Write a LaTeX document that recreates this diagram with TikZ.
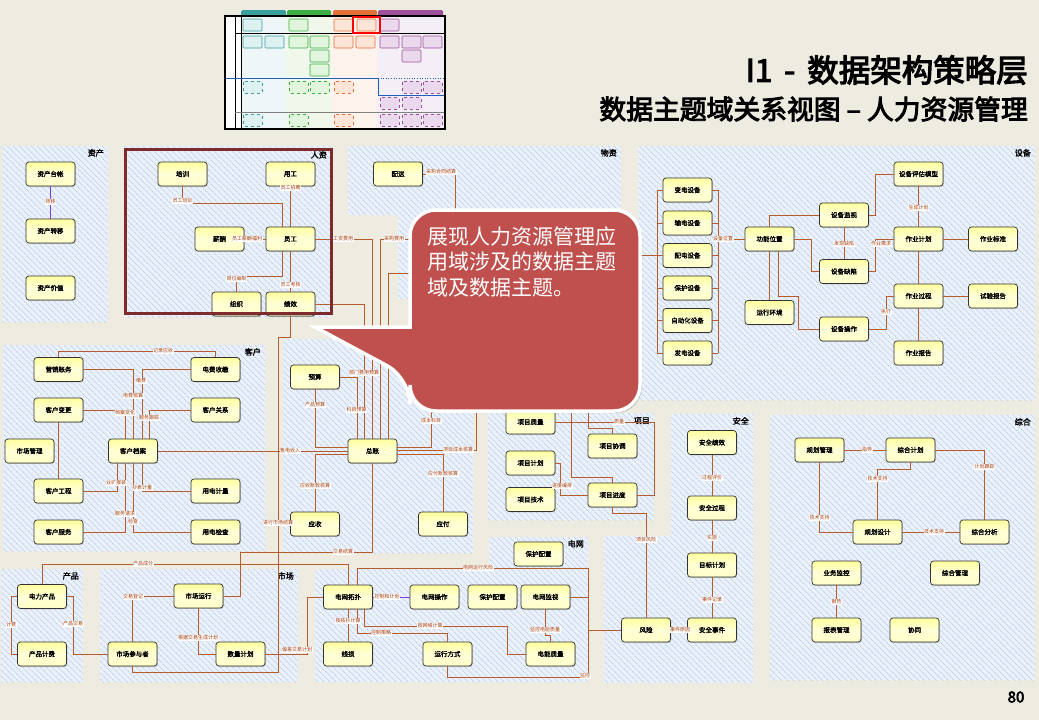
\documentclass[tikz,border=0pt]{standalone}
\usepackage{fontspec}
\newfontfamily\cjk[AutoFakeBold=2]{Noto Sans CJK SC}
\newfontfamily\cjkt[FakeBold=3.5]{Noto Sans CJK SC}
\usetikzlibrary{patterns.meta,shadows}
\definecolor{bg}{HTML}{EEECE1}
\definecolor{pfill}{HTML}{EBF1FA}
\definecolor{hatch}{HTML}{AEC2E4}
\definecolor{linkc}{HTML}{B85B2E}
\definecolor{vlinkc}{HTML}{7A3FE6}
\definecolor{lblc}{HTML}{A23B0C}
\definecolor{entTop}{HTML}{FFFF9E}
\definecolor{entBot}{HTML}{FFFFC8}
\definecolor{hrred}{HTML}{7E2B2B}
\definecolor{callred}{HTML}{C0504D}
\definecolor{tT}{HTML}{3A9E9C}\definecolor{tTf}{HTML}{DDF1F1}
\definecolor{tG}{HTML}{3CAE43}\definecolor{tGf}{HTML}{E0F5DC}
\definecolor{tO}{HTML}{E4703A}\definecolor{tOf}{HTML}{FCE4D6}
\definecolor{tP}{HTML}{A0509A}\definecolor{tPf}{HTML}{EAD8EC}
\definecolor{colA}{HTML}{EEF6F7}
\definecolor{colB}{HTML}{F0F8EC}
\definecolor{colC}{HTML}{FDF3EC}
\definecolor{colD}{HTML}{F4EFF6}
\definecolor{thblue}{HTML}{1F5FBF}
\begin{document}
\begin{tikzpicture}[x=1pt,y=-1pt,
  panel/.style={fill=pfill, postaction={pattern={Lines[angle=-45,distance=4pt,line width=0.5pt]}, pattern color=hatch}},
  ent/.style={draw=black!80, line width=0.7pt, rounded corners=3pt, minimum width=49pt, minimum height=24pt, inner sep=1pt, top color=entTop, bottom color=entBot, middle color=white!60!entTop, font=\cjk\bfseries\fontsize{6.5}{7}\selectfont, drop shadow={shadow xshift=0.8pt, shadow yshift=-0.9pt, opacity=0.4}},
  lnk/.style={draw=linkc, line width=0.9pt},
  vlnk/.style={draw=vlinkc, line width=0.9pt},
  lbl/.style={font=\cjk\fontsize{5}{5}\selectfont, text=lblc, fill=white, inner sep=0.5pt},
  plab/.style={font=\cjk\bfseries\fontsize{8}{8}\selectfont, anchor=north east, inner sep=0pt},
  ticT/.style={draw=tT, fill=tTf, line width=0.6pt, rounded corners=1pt},
  ticG/.style={draw=tG, fill=tGf, line width=0.6pt, rounded corners=1pt},
  ticO/.style={draw=tO, fill=tOf, line width=0.6pt, rounded corners=1pt},
  ticP/.style={draw=tP, fill=tPf, line width=0.6pt, rounded corners=1pt},
  callout/.style={fill=callred, draw=white, line width=3.5pt, drop shadow={opacity=0.4, shadow xshift=2pt, shadow yshift=-2pt}},
]
\fill[bg] (0,0) rectangle (1039,720);
\useasboundingbox (0,0) rectangle (1039,720);

% ---------- thumbnail ----------
\fill[tT, rounded corners=1.5pt] (241,10) rectangle (286,17);
\fill[tG, rounded corners=1.5pt] (287,10) rectangle (331,17);
\fill[tO, rounded corners=1.5pt] (333,10) rectangle (377,17);
\fill[tP, rounded corners=1.5pt] (378,10) rectangle (443,17);
\fill[colA] (241,16) rectangle (286,129);
\fill[colB] (286,16) rectangle (331,129);
\fill[colC] (331,16) rectangle (377,129);
\fill[colD] (377,16) rectangle (445,129);
\fill[white] (225,16) rectangle (241,129);
\draw[black, line width=0.8pt] (235,16) -- (235,129) (241,16) -- (241,129);
\draw[black, line width=0.8pt] (235,33) -- (445,33);
\draw[gray, line width=1pt] (235,112) -- (445,112);
\draw[thblue, line width=1pt] (225,78) -- (378,78) -- (378,95) -- (445,95);
\draw[thblue, line width=0.6pt, dotted] (378,78) -- (445,78);
\draw[black, line width=1.2pt] (225,16) rectangle (445,129);
\foreach \x/\y in {243/19,243/36,265/36}{\draw[ticT] (\x,\y) rectangle ++(19,12);}
\foreach \x/\y in {289/19,289/36,310/36,310/50,310/64}{\draw[ticG] (\x,\y) rectangle ++(19,12);}
\foreach \x/\y in {334/19,357/19,334/36,356/36}{\draw[ticO] (\x,\y) rectangle ++(19,12);}
\foreach \x/\y in {380/19,380/36,402/36,423/36,402/50}{\draw[ticP] (\x,\y) rectangle ++(19,12);}
\foreach \x/\y in {243/81,243/114}{\draw[ticT,dashed] (\x,\y) rectangle ++(19,12);}
\foreach \x/\y in {289/81,310/81,289/114}{\draw[ticG,dashed] (\x,\y) rectangle ++(19,12);}
\foreach \x/\y in {334/81,334/114}{\draw[ticO,dashed] (\x,\y) rectangle ++(19,12);}
\foreach \x/\y in {402/81,423/81,380/97,402/97,380/114,402/114,423/114}{\draw[ticP,dashed] (\x,\y) rectangle ++(19,12);}
\draw[red, line width=1.6pt] (353,17) rectangle (380,33);

% ---------- panels ----------
\path[panel] (2,146) rectangle (108,322);
\path[panel] (125,146) rectangle (331,317);
\path[panel] (348,146) -- (621,146) -- (621,299) -- (398,299) -- (398,215) -- (348,215) -- cycle;
\path[panel] (638,146) rectangle (1035,400);
\path[panel] (3,345) rectangle (265,551);
\path[panel] (283,339) rectangle (473,553);
\path[panel] (488,413) rectangle (654,520);
\path[panel] (671,414) -- (753,414) -- (753,683) -- (604,683) -- (604,536) -- (671,536) -- cycle;
\path[panel] (770,415) rectangle (1035,680);
\path[panel] (1,569) rectangle (83,682);
\path[panel] (100,569) rectangle (298,682);
\path[panel] (489,537) -- (588,537) -- (588,682) -- (315,682) -- (315,569) -- (489,569) -- cycle;

\node[plab] (pl1) at (104,149) {资产};
\node[plab] (pl2) at (327,151) {人资};
\node[plab] (pl3) at (617,149) {物资};
\node[plab] (pl4) at (1031,149) {设备};
\node[plab] (pl5) at (261,348) {客户};
\node[plab] (pl6) at (650,417) {项目};
\node[plab] (pl7) at (749,417) {安全};
\node[plab] (pl8) at (1031,418) {综合};
\node[plab] (pl9) at (79,572) {产品};
\node[plab] (pl10) at (294,572) {市场};
\node[plab] (pl11) at (584,540) {电网};

% ---------- entities ----------
\node[ent] (zctz) at (50.5,174) {资产台帐};
\node[ent] (zczy) at (50.5,231) {资产转移};
\node[ent] (zcjz) at (50.5,288) {资产价值};
\node[ent] (px) at (182.5,174) {培训};
\node[ent] (ygg) at (290.5,174) {用工};
\node[ent] (xc) at (219.5,239) {薪酬};
\node[ent] (yuan) at (290.5,239) {员工};
\node[ent] (zz) at (236.5,304) {组织};
\node[ent] (jx) at (290.5,304) {绩效};
\node[ent] (ps) at (398,174) {配送};
\node[ent] (bd) at (687.5,190) {变电设备};
\node[ent] (sd) at (687.5,223) {输电设备};
\node[ent] (pd) at (687.5,255.5) {配电设备};
\node[ent] (bh) at (687.5,288) {保护设备};
\node[ent] (zdh) at (687.5,320.5) {自动化设备};
\node[ent] (fd) at (687.5,353) {发电设备};
\node[ent] (gnwz) at (769.5,239) {功能位置};
\node[ent] (yxhj) at (769.5,312.5) {运行环境};
\node[ent] (sbjs) at (844,215) {设备监视};
\node[ent] (sbqx) at (844,271.5) {设备缺陷};
\node[ent] (sbcz) at (844,329) {设备操作};
\node[ent] (pgmx) at (918.5,174) {设备评估模型};
\node[ent] (zyjh) at (918.5,239) {作业计划};
\node[ent] (zygc) at (918.5,296) {作业过程};
\node[ent] (zybg) at (918.5,353) {作业报告};
\node[ent] (zybz) at (993,239) {作业标准};
\node[ent] (sybg) at (993,296) {试验报告};
\node[ent] (yxzw) at (58.5,369.5) {营销账务};
\node[ent] (dfsj) at (215.5,369.5) {电费收缴};
\node[ent] (khbg) at (58.5,410) {客户变更};
\node[ent] (khgx) at (215.5,410) {客户关系};
\node[ent] (scgl) at (29.5,451) {市场管理};
\node[ent] (khda) at (133,451) {客户档案};
\node[ent] (khgc) at (58.5,491) {客户工程};
\node[ent] (ydjl) at (215.5,491) {用电计量};
\node[ent] (khfw) at (58.5,532) {客户服务};
\node[ent] (ydjc) at (215.5,532) {用电检查};
\node[ent] (ys) at (315,377) {预算};
\node[ent] (zhz) at (372.5,451) {总账};
\node[ent] (yss) at (315,524) {应收};
\node[ent] (yf) at (443,524) {应付};
\node[ent] (xmzl) at (530.5,422) {项目质量};
\node[ent] (xmxt) at (612.5,446) {项目协调};
\node[ent] (xmjh) at (530.5,463) {项目计划};
\node[ent] (xmjs) at (530.5,499.5) {项目技术};
\node[ent] (xmjd) at (612.5,495) {项目进度};
\node[ent] (aqjx) at (712,442.5) {安全绩效};
\node[ent] (aqgc) at (712,508) {安全过程};
\node[ent] (mbjh) at (712,565) {目标计划};
\node[ent] (aqsj) at (712,630) {安全事件};
\node[ent] (fx) at (646,630) {风险};
\node[ent] (ghgl) at (819.5,450) {规划管理};
\node[ent] (zhjh) at (910.5,450) {综合计划};
\node[ent] (ghsj) at (877.5,532) {规划设计};
\node[ent] (zhfx) at (984.5,532) {综合分析};
\node[ent] (ywjk) at (836.5,573) {业务监控};
\node[ent] (zhgl) at (955,573) {综合管理};
\node[ent] (bbgl) at (836.5,630) {报表管理};
\node[ent] (xt) at (914.5,630) {协同};
\node[ent] (dlcp) at (42,596.5) {电力产品};
\node[ent] (cpjf) at (42,654) {产品计费};
\node[ent] (scc) at (132.5,654) {市场参与者};
\node[ent] (scyx) at (198.5,596) {市场运行};
\node[ent] (sljh) at (240.5,654) {数量计划};
\node[ent] (bhpz1) at (538.5,554) {保护配置};
\node[ent] (dwtp) at (348,597) {电网拓扑};
\node[ent] (dwcz) at (434.5,597) {电网操作};
\node[ent] (bhpz2) at (492.5,597) {保护配置};
\node[ent] (dwjs) at (545.5,597) {电网监视};
\node[ent] (xs) at (348,654) {线损};
\node[ent] (yxfs) at (447.5,654) {运行方式};
\node[ent] (dnzl) at (550.5,654) {电能质量};

\coordinate (lbus) at (657,0);
\coordinate (rbus) at (718,0);
\coordinate (gbus) at (588,630);

% ---------- connectors ----------
\draw[vlnk] (zctz) -- (zczy);
\draw[lnk] (px.south) -- (182.5,203) -- (282,203) -- ([xshift=-8.5pt]yuan.north);
\draw[lnk] (ygg) -- (yuan);
\draw[lnk] (xc) -- (yuan);
\draw[lnk] ([xshift=-8.5pt]yuan.south) |- (236.5,276) -- (zz.north);
\draw[lnk] (yuan) -- (jx);
\draw[lnk] (yuan.east) -| (zhz.north);
\draw[lnk] (jx.east) -| ([xshift=-8pt]zhz.north);
\draw[lnk] (ps.east) -- (455,174) -- (455,239) -| ([xshift=8pt]zhz.north);
\draw[lnk] (657,255.5) -- (625,255.5) -- (625,273) -| ([xshift=16pt]zhz.north);
\draw[lnk] (ys.east) -| ([xshift=-15.5pt]zhz.north);
\draw[lnk] (ys.south) |- ([yshift=4pt]zhz.west);
\draw[lnk] (khda) -- (zhz);
\draw[lnk] ([yshift=-3pt]zhz.west) -| (yss.north);
\draw[lnk] ([yshift=-3pt]zhz.east) -| (yf.north);
\draw[lnk] ([yshift=4pt]zhz.east) -| (431,405) -- (530.5,405) -- (xmzl.north);
\draw[lnk] ([yshift=1pt]zhz.east) -- (476,450) -- (476,405) -- (571,405) -- (571,477) -| (xmjd.north);
\draw[lnk] (571,405) -- (588,405) -- (588,428) -| (xmxt.north);
\draw[lnk] (zhz.south) -- (372.5,552) -- (240,552) -- (240,596) -- (scyx.east);
\draw[lnk] (jx.south) -- (290.5,337) -- (278,337) -- (278,672) -- (132.5,672) -- (scc.south);

\foreach \n in {bd,sd,pd,bh,zdh,fd}{
  \draw[lnk] (\n.west) -- (\n.west -| lbus);
  \draw[lnk] (\n.east) -- (\n.east -| rbus);}
\draw[lnk] (657,190) -- (657,353);
\draw[lnk] (718,190) -- (718,353);
\draw[lnk] (718,239) -- (gnwz.west);
\draw[lnk] (gnwz.north) |- (sbjs.west);
\draw[lnk] (gnwz.east) -- (811,239) |- (sbqx.west);
\draw[lnk] (sbjs) -- (sbqx);
\draw[lnk] (sbjs.east) -- (875,215) |- (pgmx.west);
\draw[lnk] (sbqx.east) -- (875,271.5) |- (zyjh.west);
\draw[lnk] (pgmx) -- (zyjh);
\draw[lnk] (zyjh) -- (zybz);
\draw[lnk] (zyjh) -- (zygc);
\draw[lnk] (zygc) -- (sybg);
\draw[lnk] (zygc) -- (zybg);
\draw[lnk] (gnwz.south) -- (yxhj.north);
\draw[lnk] ([xshift=8.5pt]gnwz.south) -- (778,296) -- (798,296) -- (798,329) -- (sbcz.west);
\draw[lnk] (sbcz.east) -- (886,329) |- (zygc.west);

\draw[lnk] (yxzw.north) -- (58.5,351) -| (dfsj.north);
\draw[lnk] (yxzw.east) -| (khda.north);
\draw[lnk] (dfsj.west) -| ([xshift=9pt]khda.north);
\draw[lnk] (khbg.east) -| ([xshift=-8pt]khda.north);
\draw[lnk] (khgx.west) -| ([xshift=16pt]khda.north);
\draw[lnk] (khbg) -- (khgc);
\draw[lnk] ([xshift=-16pt]khda.south) |- (khgc.east);
\draw[lnk] ([xshift=9pt]khda.south) |- (ydjl.west);
\draw[lnk] ([xshift=-8pt]khda.south) |- (khfw.east);
\draw[lnk] (khda.south) |- (ydjc.west);

\draw[lnk] (dlcp.west) -- (11,596.5) |- (cpjf.west);
\draw[lnk] (dlcp.east) -- (73,596.5) |- (scc.west);
\draw[lnk] (scyx.west) -| (scc.north);
\draw[lnk] (scyx.south) |- (sljh.west);
\draw[lnk] (dlcp.north) -- (42,564) -| (dwtp.north);
\draw[lnk] (sljh.east) -- (307,654) |- (dwtp.west);

\draw[vlnk] (dwtp) -- (dwcz);
\draw[lnk] (dwtp) -- (xs);
\draw[lnk] ([xshift=9pt]dwtp.south) |- (447.5,633) -- (yxfs.north);
\draw[lnk] ([xshift=16pt]dwtp.south) |- (507,626) |- (dnzl.west);
\draw[lnk] (dwjs.south) -- (545.5,635) -- (550.5,635) -- (dnzl.north);
\draw[lnk] ([xshift=9pt]dwtp.north) |- (588,568) -- (588,677) -- (447.5,677) -- (yxfs.south);
\draw[lnk] (dwjs.east) -- (588,597);
\draw[lnk] (fx.west) -- (gbus);

\draw[lnk] (xmzl.east) -- (654,422) |- (xmjd.east);
\draw[lnk] (xmjh.east) -- (560,463) |- (xmjd.west);
\draw[lnk] (xmjd.south) -- (612.5,513) -| (fx.north);

\draw[lnk] (aqjx) -- (aqgc);
\draw[lnk] (aqgc) -- (mbjh);
\draw[lnk] (mbjh) -- (aqsj);
\draw[lnk] (fx) -- (aqsj);

\draw[lnk] (ghgl) -- (zhjh);
\draw[lnk] (zhjh.east) -| (zhfx.north);
\draw[lnk] (zhjh.south) -- (910.5,469) -| (ghsj.north);
\draw[lnk] (ghgl.south) |- (ghsj.west);
\draw[lnk] (ghsj) -- (zhfx);
\draw[lnk] (ywjk) -- (bbgl);

% ---------- connector labels ----------
\node[lbl] at (50.5,202) {转移};
\node[lbl] at (182.5,201) {员工培训};
\node[lbl] at (290.5,188) {员工招聘};
\node[lbl] at (247,239) {员工薪酬福利};
\node[lbl] at (236.5,279) {岗位编制};
\node[lbl] at (290.5,285) {员工考核};
\node[lbl] at (343,239) {工资费用};
\node[lbl] at (441,172) {采购合同结算};
\node[lbl] at (394,239) {采购费用};
\node[lbl] at (364,373) {部门费用预算};
\node[lbl] at (356.5,410) {科目预算};
\node[lbl] at (315,405) {产品预算};
\node[lbl] at (290,451) {售电收入};
\node[lbl] at (315,486) {应收账款核算};
\node[lbl] at (443,474) {应付账款核算};
\node[lbl] at (431,421) {成本科目};
\node[lbl] at (458,450) {项目成本核算};
\node[lbl] at (343,552) {交易结算};
\node[lbl] at (278,523) {进行市场结算};
\node[lbl] at (723,239) {设备位置};
\node[lbl] at (844,244) {发现缺陷};
\node[lbl] at (881,244) {作业需求};
\node[lbl] at (918.5,208) {生成计划};
\node[lbl] at (886,312) {执行};
\node[lbl] at (163,351) {记录应收};
\node[lbl] at (133,396) {电费核算};
\node[lbl] at (141,381) {缴费};
\node[lbl] at (125,413) {档案变化};
\node[lbl] at (149,418) {服务跟踪};
\node[lbl] at (116,483) {业扩报装};
\node[lbl] at (142,488) {抄表计量};
\node[lbl] at (125,514) {服务请求};
\node[lbl] at (133,522) {检查};
\node[lbl] at (11,625) {计费};
\node[lbl] at (73,624) {产品交易};
\node[lbl] at (133,597) {交易登记};
\node[lbl] at (198,638) {根据交易生成计划};
\node[lbl] at (143,564) {产品成分};
\node[lbl] at (297,650) {偏差交易计划};
\node[lbl] at (387,597) {控制和计划};
\node[lbl] at (348,621) {按拓扑计算};
\node[lbl] at (381,633) {控制策略};
\node[lbl] at (430,626) {按网络计算};
\node[lbl] at (545,630) {监控电能质量};
\node[lbl] at (478,568) {电网运行风险};
\node[lbl] at (585,676) {监控};
\node[lbl] at (619,422) {质量};
\node[lbl] at (562,486) {进度编排};
\node[lbl] at (646,540) {项目风险};
\node[lbl] at (712,478) {过程评价};
\node[lbl] at (712,538) {实施};
\node[lbl] at (712,600) {事件记录};
\node[lbl] at (680,630) {事件原因};
\node[lbl] at (867,450) {指导};
\node[lbl] at (984.5,467) {计划跟踪};
\node[lbl] at (877.5,479) {技术支持};
\node[lbl] at (819.5,518) {技术支持};
\node[lbl] at (934,532) {技术支持};
\node[lbl] at (836.5,602) {报告};

% HR frame
\draw[hrred, line width=3pt] (125,149) rectangle (331,313);

% ---------- callout ----------
\draw[callout] (410,300) [rounded corners=26pt] -- (410,210) -- (640,210) -- (640,411) -- (410,411) -- (410,378) [sharp corners] -- (315,327) -- (410,327) -- cycle;
\node[anchor=north west, text=white, font=\cjk\fontsize{21}{25.5}\selectfont, align=left, inner sep=0pt] (ctext) at (427,226) {展现人力资源管理应\\用域涉及的数据主题\\域及数据主题。};

% ---------- titles ----------
\node[anchor=east, font=\cjkt\fontsize{31.5}{31.5}\selectfont, inner sep=0pt] (t1) at (1028,70) {I1\hspace{12pt}-\hspace{12pt}数据架构策略层};
\node[anchor=east, font=\cjkt\fontsize{26.8}{26.8}\selectfont, inner sep=0pt] (t2) at (1028,109) {数据主题域关系视图 – 人力资源管理};
\node[font=\cjkt\fontsize{15}{15}\selectfont, inner sep=0pt] (pg) at (1016,697) {80};
\end{tikzpicture}
\end{document}
